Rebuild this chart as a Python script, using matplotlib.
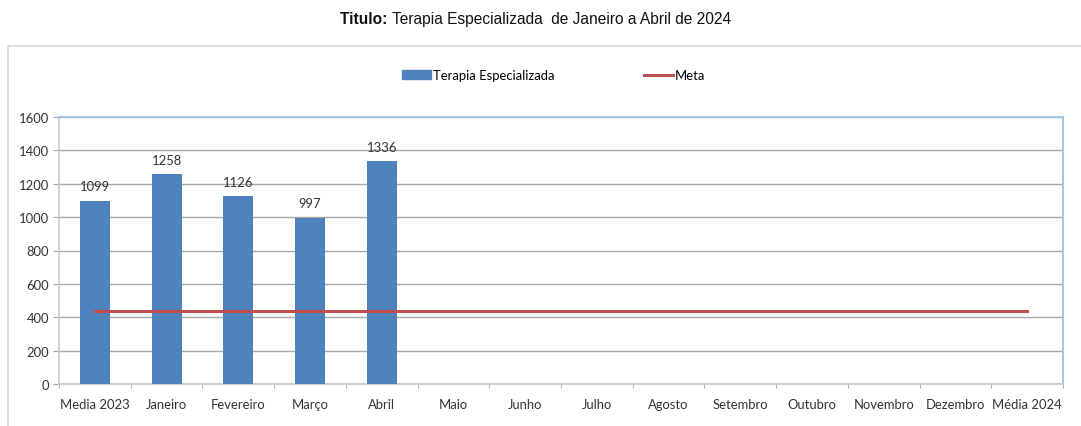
import matplotlib
matplotlib.use("Agg")
import matplotlib.pyplot as plt
from matplotlib.patches import Rectangle
from matplotlib.lines import Line2D
from matplotlib.patches import Patch
import numpy as np

categories = ["Media 2023", "Janeiro", "Fevereiro", "Março", "Abril", "Maio", "Junho",
              "Julho", "Agosto", "Setembro", "Outubro", "Novembro", "Dezembro", "Média 2024"]
terapia = [1099, 1258, 1126, 997, 1336]
meta = [436] * len(categories)
yticks = [0, 200, 400, 600, 800, 1000, 1200, 1400, 1600]

W, H = 1081, 427
fig = plt.figure(figsize=(W / 100, H / 100), dpi=100)
fig.patch.set_facecolor("white")
font = "Liberation Sans"
tick_font = "Lato"
fs = 9.4
txt_color = "#333333"

# outer chart frame
fig.patches.append(Rectangle((8 / W, -0.1), 1.2, 1 - 47 / H + 0.1, transform=fig.transFigure,
                             fill=False, edgecolor="#d4d4d4", linewidth=1.2))

ax = fig.add_axes([59 / W, 1 - 385 / H, (1063 - 59) / W, (385 - 118) / H])
x = np.arange(len(categories))
bar_color = "#4f81bd"
ax.bar(x[:len(terapia)], terapia, width=0.42, color=bar_color, zorder=3)
ax.plot(x, meta, color="#c0504d", linewidth=2.2, zorder=4)

for xi, v in zip(x, terapia):
    ax.text(xi, v + 50, str(v), ha="center", va="bottom", fontsize=fs, family=tick_font, color=txt_color)

ax.set_xlim(-0.5, len(categories) - 0.5)
ax.set_ylim(0, 1600)
ax.set_yticks(yticks)
ax.set_yticklabels([str(t) for t in yticks], fontsize=fs, family=tick_font, color=txt_color)
ax.set_xticks(x)
ax.set_xticklabels(categories, fontsize=fs, family=tick_font, color=txt_color)
ax.tick_params(axis="x", length=0, pad=10)
ax.set_xticks(np.arange(len(categories) + 1) - 0.5, minor=True)
ax.tick_params(axis="x", which="minor", length=3, color="#a0a0a0", direction="out")
ax.tick_params(axis="y", length=4, color="#a0a0a0", pad=3)
ax.grid(axis="y", color="#a6a6a6", linewidth=1, zorder=0)

for side in ["left", "bottom"]:
    ax.spines[side].set_color("#c8c8c8")
    ax.spines[side].set_linewidth(1.2)
for side in ["top", "right"]:
    ax.spines[side].set_color("#9dc3e6")
    ax.spines[side].set_linewidth(1.3)

# legend
handles = [Patch(facecolor=bar_color, edgecolor=bar_color),
           Line2D([0], [0], color="#c0504d", linewidth=2.2)]
leg = fig.legend(handles, ["Terapia Especializada", "Meta"], loc="center left",
                 bbox_to_anchor=(402 / W, 1 - 76 / H), borderaxespad=0, borderpad=0,
                 ncol=2, frameon=False, prop={"family": tick_font, "size": fs}, handlelength=2.2,
                 handleheight=0.6, handletextpad=0.15, columnspacing=6.9)

# title with bold prefix
fig.canvas.draw()
renderer = fig.canvas.get_renderer()
t1 = fig.text(340 / W, 1 - 24 / H, "Titulo: ", fontsize=11.2, fontweight="bold", family=font,
              va="baseline", ha="left", color="#111111")
bb = t1.get_window_extent(renderer)
fig.text(bb.x1 / W, 1 - 24 / H, "Terapia Especializada  de Janeiro a Abril de 2024", fontsize=11.2,
         family=font, va="baseline", ha="left", color="#111111")

fig.savefig("out.png", dpi=100)
